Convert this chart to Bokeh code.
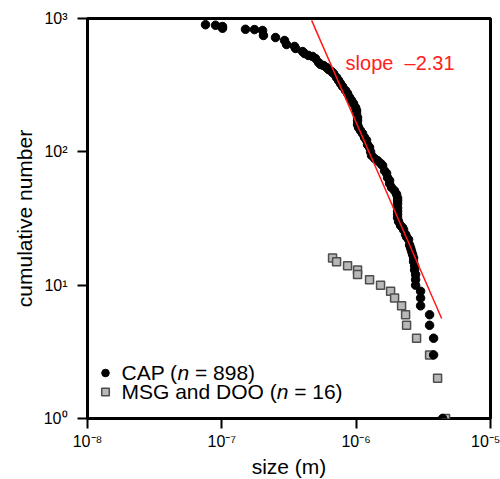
from bokeh.plotting import figure
from bokeh.models import (Range1d, FixedTicker, CustomJSTickFormatter, Label,
                          Legend, LegendItem)
from bokeh.core.properties import value
from bokeh.embed import file_html
from bokeh.resources import INLINE

# ---- data ----
cap_size_um = [0.0756, 0.0898, 0.1012, 0.1012, 0.150, 0.175, 0.201, 0.204, 0.251, 0.293,
               0.303, 0.348, 0.354, 0.399, 0.413, 0.442, 0.474, 0.498, 0.525, 0.543,
               0.572, 0.602, 0.623, 0.656, 0.679, 0.715, 0.740, 0.765, 0.792, 0.834,
               0.863, 0.893, 0.924, 0.956, 0.990, 1.007, 1.007, 1.024, 1.024, 1.024,
               1.042, 1.078, 1.116, 1.155, 1.195, 1.216, 1.258, 1.280, 1.302, 1.371,
               1.443, 1.519, 1.573, 1.627, 1.684, 1.713, 1.773, 1.773, 1.835, 1.932,
               1.999, 2.034, 2.034, 2.034, 2.034, 2.034, 2.034, 2.034, 2.069, 2.141,
               2.216, 2.254, 2.333, 2.373, 2.456, 2.498, 2.542, 2.585, 2.630, 2.676,
               2.676, 2.722, 2.722, 2.769, 2.769, 2.769, 3.017, 3.017, 3.017, 3.520,
               3.520, 3.771, 3.771, 4.399]
cap_count = [898, 890, 871, 845, 830, 826, 813, 746, 720, 684,
             638, 617, 596, 565, 546, 528, 519, 501, 468, 452,
             444, 429, 414, 400, 387, 361, 343, 325, 309, 288,
             274, 256, 243, 230, 215, 204, 194, 181, 172, 160,
             152, 144, 137, 128, 122, 113, 108, 100, 94, 89,
             86, 82, 79, 72, 69, 64, 61, 58, 54, 51,
             48, 45, 43, 41, 38, 36, 34, 32, 30, 28,
             27, 26, 24, 23, 22, 20, 19, 18, 17, 16,
             15, 14, 13, 12, 11, 10, 9, 8, 7, 6,
             5, 4, 3, 1]
msg_size_um = [0.667, 0.715, 0.863, 1.024, 1.024, 1.258, 1.519, 1.804, 1.932, 2.178,
               2.333, 2.373, 2.817, 3.520, 4.037, 4.631]
msg_count = [16, 15, 14, 13, 12, 11, 10, 9, 8, 7, 6, 5, 4, 3, 2, 1]

fit_size_um = [0.466, 4.33]
fit_slope = -2.31
fit_coef = 166.0          # count at 1 um

x_ticks = [1e-8, 1e-7, 1e-6, 1e-5]
y_ticks = [1, 10, 100, 1000]

FONT = "Liberation Sans"

cap_x = [s * 1e-6 for s in cap_size_um]
msg_x = [s * 1e-6 for s in msg_size_um]
fit_x = [s * 1e-6 for s in fit_size_um]
fit_y = [fit_coef * s ** fit_slope for s in fit_size_um]

p = figure(x_axis_type="log", y_axis_type="log",
           x_range=Range1d(1e-8, 1e-5), y_range=Range1d(1, 1000),
           frame_width=403, frame_height=400,
           min_border_left=87, min_border_right=10, min_border_top=18, min_border_bottom=60,
           output_backend="svg", toolbar_location=None)

p.grid.visible = False
p.outline_line_color = "black"
p.outline_line_width = 3
p.outline_line_alpha = 1.0

sup_js = """
const e = Math.round(Math.log10(tick));
const m = {"-":"\u207b","0":"\u2070","1":"\u00b9","2":"\u00b2","3":"\u00b3","4":"\u2074",
           "5":"\u2075","6":"\u2076","7":"\u2077","8":"\u2078","9":"\u2079"};
return "10" + String(e).split("").map(c => m[c]).join("");
"""
for ax, ticks in ((p.xaxis[0], x_ticks), (p.yaxis[0], y_ticks)):
    ax.ticker = FixedTicker(ticks=ticks, minor_ticks=[])
    ax.formatter = CustomJSTickFormatter(code=sup_js)
    ax.axis_line_color = None
    ax.major_tick_in = 0
    ax.major_tick_out = 10
    ax.major_tick_line_width = 2
    ax.major_tick_line_color = "black"
    ax.minor_tick_line_color = None
    ax.major_label_text_font = FONT
    ax.major_label_text_font_size = "16px"
    ax.major_label_text_color = "black"
    ax.axis_label_text_font = FONT
    ax.axis_label_text_font_size = "21px"
    ax.axis_label_text_font_style = "normal"
    ax.axis_label_text_color = "black"

p.xaxis.axis_label = "size (m)"
p.yaxis.axis_label = "cumulative number"
p.xaxis.major_label_standoff = 4
p.xaxis.axis_label_standoff = 2
p.yaxis.major_label_standoff = 10
p.yaxis.axis_label_standoff = 5

msg_r = p.scatter(msg_x, msg_count, marker="square", size=8,
                  fill_color="#b8b8b8", line_color="#4d4d4d", line_width=1.5)
cap_r = p.scatter(cap_x, cap_count, marker="circle", size=8.5,
                  fill_color="black", line_color="black")
p.line(fit_x, fit_y, line_color="#ff1a1a", line_width=1.5)

p.add_layout(Label(x=0.834e-6, y=460, text="slope \u00a0\u20132.31",
                   text_font=FONT, text_font_size="20px", text_color="#ff2020",
                   text_baseline="middle", text_align="left"))

legend = Legend(items=[LegendItem(label=value(""), renderers=[cap_r]),
                       LegendItem(label=value(""), renderers=[msg_r])],
                location=(8, 17), orientation="vertical",
                glyph_width=20, glyph_height=19, label_height=19, label_width=0,
                label_standoff=0, spacing=0, padding=0, margin=0,
                border_line_color=None, background_fill_alpha=0)
p.add_layout(legend)

leg_x = 1.79e-8
rows = [(2.21, "CAP (", 56.0, "= 898)", 73.5),
        (1.59, "MSG and DOO (", 155.2, "= 16)", 172.7)]
for y, t1, off_n, t2, off2 in rows:
    for txt, off, style in ((t1, 0, "normal"), ("n", off_n, "italic"), (t2, off2, "normal")):
        p.add_layout(Label(x=leg_x, y=y, x_offset=off, text=txt, text_font=FONT,
                           text_font_size="21px", text_font_style=style,
                           text_color="black", text_baseline="middle", text_align="left"))

open("out.html", "w", encoding="utf-8").write(file_html(p, INLINE))
